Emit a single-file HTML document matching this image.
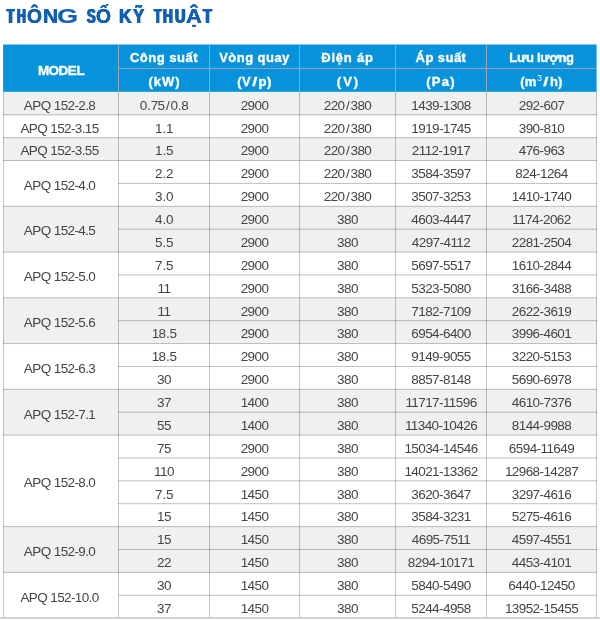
<!DOCTYPE html><html><head><meta charset="utf-8"><title>Thong so ky thuat</title><style>
html,body{margin:0;padding:0;background:#fff;}
body{width:600px;height:620px;position:relative;overflow:hidden;font-family:"Liberation Sans",sans-serif;}
div{position:absolute;box-sizing:border-box;}
svg{position:absolute;left:0;top:0;}
.t{color:#444444;font-size:13.5px;letter-spacing:-0.58px;text-align:center;white-space:nowrap;line-height:22.880px;height:22.880px;}
.m{letter-spacing:-0.63px;}
.h{color:#fff;font-weight:bold;font-size:13px;letter-spacing:0.3px;text-align:center;white-space:nowrap;line-height:20px;height:20px;-webkit-text-stroke:0.35px #fff;}
.w{color:#1360b2;font-weight:bold;font-size:19.5px;white-space:nowrap;line-height:19.5px;top:6.5px;transform-origin:0 50%;-webkit-text-stroke:0.15px #1360b2;}
sup{font-size:8.5px;line-height:0;vertical-align:5px;font-weight:normal;-webkit-text-stroke:0;margin:0 0.5px}
u{text-decoration:none;display:inline-block;transform:scaleX(1.4);margin:0 1.6px}
em{font-style:normal;letter-spacing:-0.6px;margin-right:3.2px}
b{font-weight:normal;margin:0 0.4px}i{font-style:normal;margin:0 1.4px}
</style></head><body>
<svg width="600" height="620" viewBox="0 0 600 620">
<rect x="3.10" y="44.50" width="593.50" height="47.40" fill="#0693dc"/>
<rect x="3.00" y="91.90" width="594.00" height="22.88" fill="#f0f0f0"/>
<rect x="3.00" y="137.66" width="594.00" height="22.88" fill="#f0f0f0"/>
<rect x="3.00" y="206.30" width="594.00" height="45.76" fill="#f0f0f0"/>
<rect x="3.00" y="297.82" width="594.00" height="45.76" fill="#f0f0f0"/>
<rect x="3.00" y="389.34" width="594.00" height="45.76" fill="#f0f0f0"/>
<rect x="3.00" y="526.62" width="594.00" height="45.76" fill="#f0f0f0"/>
<rect x="118.00" y="67.90" width="479.00" height="1" fill="#93a7b8"/>
<rect x="118.00" y="44.50" width="1" height="47.40" fill="#93a7b8"/>
<rect x="209.00" y="44.50" width="1" height="47.40" fill="#93a7b8"/>
<rect x="299.00" y="44.50" width="1" height="47.40" fill="#93a7b8"/>
<rect x="395.00" y="44.50" width="1" height="47.40" fill="#93a7b8"/>
<rect x="486.00" y="44.50" width="1" height="47.40" fill="#93a7b8"/>
<rect x="3.00" y="91.90" width="1" height="525.74" fill="rgba(0,0,0,0.22)"/>
<rect x="118.00" y="91.90" width="1" height="525.74" fill="rgba(0,0,0,0.22)"/>
<rect x="209.00" y="91.90" width="1" height="525.74" fill="rgba(0,0,0,0.22)"/>
<rect x="299.00" y="91.90" width="1" height="525.74" fill="rgba(0,0,0,0.22)"/>
<rect x="395.00" y="91.90" width="1" height="525.74" fill="rgba(0,0,0,0.22)"/>
<rect x="486.00" y="91.90" width="1" height="525.74" fill="rgba(0,0,0,0.22)"/>
<rect x="596.00" y="91.90" width="1" height="525.74" fill="rgba(0,0,0,0.22)"/>
<rect x="3.00" y="114.28" width="594.00" height="1" fill="rgba(0,0,0,0.25)"/>
<rect x="3.00" y="137.16" width="594.00" height="1" fill="rgba(0,0,0,0.25)"/>
<rect x="3.00" y="160.04" width="594.00" height="1" fill="rgba(0,0,0,0.25)"/>
<rect x="118.00" y="182.92" width="479.00" height="1" fill="rgba(0,0,0,0.25)"/>
<rect x="3.00" y="205.80" width="594.00" height="1" fill="rgba(0,0,0,0.25)"/>
<rect x="118.00" y="228.68" width="479.00" height="1" fill="rgba(0,0,0,0.25)"/>
<rect x="3.00" y="251.56" width="594.00" height="1" fill="rgba(0,0,0,0.25)"/>
<rect x="118.00" y="274.44" width="479.00" height="1" fill="rgba(0,0,0,0.25)"/>
<rect x="3.00" y="297.32" width="594.00" height="1" fill="rgba(0,0,0,0.25)"/>
<rect x="118.00" y="320.20" width="479.00" height="1" fill="rgba(0,0,0,0.25)"/>
<rect x="3.00" y="343.08" width="594.00" height="1" fill="rgba(0,0,0,0.25)"/>
<rect x="118.00" y="365.96" width="479.00" height="1" fill="rgba(0,0,0,0.25)"/>
<rect x="3.00" y="388.84" width="594.00" height="1" fill="rgba(0,0,0,0.25)"/>
<rect x="118.00" y="411.72" width="479.00" height="1" fill="rgba(0,0,0,0.25)"/>
<rect x="3.00" y="434.60" width="594.00" height="1" fill="rgba(0,0,0,0.25)"/>
<rect x="118.00" y="457.48" width="479.00" height="1" fill="rgba(0,0,0,0.25)"/>
<rect x="118.00" y="480.36" width="479.00" height="1" fill="rgba(0,0,0,0.25)"/>
<rect x="118.00" y="503.24" width="479.00" height="1" fill="rgba(0,0,0,0.25)"/>
<rect x="3.00" y="526.12" width="594.00" height="1" fill="rgba(0,0,0,0.25)"/>
<rect x="118.00" y="549.00" width="479.00" height="1" fill="rgba(0,0,0,0.25)"/>
<rect x="3.00" y="571.88" width="594.00" height="1" fill="rgba(0,0,0,0.25)"/>
<rect x="118.00" y="594.76" width="479.00" height="1" fill="rgba(0,0,0,0.25)"/>
<rect x="0" y="617.24" width="600" height="1.5" fill="#c2c2c2"/>
</svg>
<div id="tx" style="left:0;top:0;width:600px;height:620px;will-change:transform">
<div class="w" style="left:7.37px;transform:scaleX(0.5975);text-shadow:1.486px 0 0 #1360b2,-1.486px 0 0 #1360b2;">T</div>
<div class="w" style="left:17.05px;transform:scaleX(0.6265);text-shadow:1.35px 0 0 #1360b2,-1.35px 0 0 #1360b2;">H</div>
<div class="w" style="left:27.06px;transform:scaleX(0.9844);text-shadow:0.335px 0 0 #1360b2,-0.335px 0 0 #1360b2;">Ô</div>
<div class="w" style="left:42.66px;transform:scaleX(1.0674);text-shadow:0.196px 0 0 #1360b2,-0.196px 0 0 #1360b2;">N</div>
<div class="w" style="left:57.42px;transform:scaleX(1.3903);">G</div>
<div class="w" style="left:86.62px;transform:scaleX(0.6580);text-shadow:1.216px 0 0 #1360b2,-1.216px 0 0 #1360b2;">S</div>
<div class="w" style="left:96.06px;transform:scaleX(0.9844);text-shadow:0.335px 0 0 #1360b2,-0.335px 0 0 #1360b2;">Ố</div>
<div class="w" style="left:119.29px;transform:scaleX(0.9080);text-shadow:0.484px 0 0 #1360b2,-0.484px 0 0 #1360b2;">K</div>
<div class="w" style="left:132.95px;transform:scaleX(0.8724);text-shadow:0.563px 0 0 #1360b2,-0.563px 0 0 #1360b2;">Ỹ</div>
<div class="w" style="left:153.70px;transform:scaleX(0.6381);text-shadow:1.299px 0 0 #1360b2,-1.299px 0 0 #1360b2;">T</div>
<div class="w" style="left:162.86px;transform:scaleX(0.6961);text-shadow:1.071px 0 0 #1360b2,-1.071px 0 0 #1360b2;">H</div>
<div class="w" style="left:174.82px;transform:scaleX(0.7375);text-shadow:0.93px 0 0 #1360b2,-0.93px 0 0 #1360b2;">U</div>
<div class="w" style="left:186.07px;transform:scaleX(1.1298);text-shadow:0.106px 0 0 #1360b2,-0.106px 0 0 #1360b2;">Ậ</div>
<div class="w" style="left:203.01px;transform:scaleX(0.7541);text-shadow:0.877px 0 0 #1360b2,-0.877px 0 0 #1360b2;">T</div>
<div class="h" style="left:4.00px;top:61.00px;width:114.00px;font-size:13.5px;letter-spacing:-0.5px">MODEL</div>
<div class="h" style="left:119.00px;top:47.50px;width:90.00px;letter-spacing:0.5px">Công suất</div>
<div class="h" style="left:119.50px;top:71.50px;width:90.00px;letter-spacing:1.0px">(kW)</div>
<div class="h" style="left:210.00px;top:47.50px;width:89.00px;letter-spacing:0.45px">Vòng quay</div>
<div class="h" style="left:210.00px;top:71.50px;width:89.00px;letter-spacing:0.5px">(V<u>/</u>p)</div>
<div class="h" style="left:300.00px;top:47.50px;width:95.00px;letter-spacing:0.8px">Điện áp</div>
<div class="h" style="left:301.00px;top:71.50px;width:95.00px;letter-spacing:2.0px">(V)</div>
<div class="h" style="left:396.00px;top:47.50px;width:90.00px;letter-spacing:0.45px">Áp suất</div>
<div class="h" style="left:396.00px;top:71.50px;width:90.00px;letter-spacing:1.2px">(Pa)</div>
<div class="h" style="left:487.00px;top:47.50px;width:109.00px;letter-spacing:-0.3px">Lưu lượng</div>
<div class="h" style="left:487.00px;top:71.50px;width:109.00px;letter-spacing:0.3px">(m<sup>3</sup><u>/</u>h)</div>
<div class="t m" style="left:2.50px;top:94.65px;width:114.00px"><em>APQ</em>152-2.8</div>
<div class="t" style="left:119.00px;top:94.65px;width:90.00px">0<b>.</b>75<i>/</i>0<b>.</b>8</div>
<div class="t" style="left:210.00px;top:94.65px;width:89.00px">2900</div>
<div class="t" style="left:300.00px;top:94.65px;width:95.00px">220<i>/</i>380</div>
<div class="t" style="left:396.00px;top:94.65px;width:90.00px">1439-1308</div>
<div class="t" style="left:487.00px;top:94.65px;width:109.00px">292-607</div>
<div class="t m" style="left:2.50px;top:117.53px;width:114.00px"><em>APQ</em>152-3.15</div>
<div class="t" style="left:119.00px;top:117.53px;width:90.00px">1<b>.</b>1</div>
<div class="t" style="left:210.00px;top:117.53px;width:89.00px">2900</div>
<div class="t" style="left:300.00px;top:117.53px;width:95.00px">220<i>/</i>380</div>
<div class="t" style="left:396.00px;top:117.53px;width:90.00px">1919-1745</div>
<div class="t" style="left:487.00px;top:117.53px;width:109.00px">390-810</div>
<div class="t m" style="left:2.50px;top:140.41px;width:114.00px"><em>APQ</em>152-3.55</div>
<div class="t" style="left:119.00px;top:140.41px;width:90.00px">1<b>.</b>5</div>
<div class="t" style="left:210.00px;top:140.41px;width:89.00px">2900</div>
<div class="t" style="left:300.00px;top:140.41px;width:95.00px">220<i>/</i>380</div>
<div class="t" style="left:396.00px;top:140.41px;width:90.00px">2112-1917</div>
<div class="t" style="left:487.00px;top:140.41px;width:109.00px">476-963</div>
<div class="t m" style="left:2.50px;top:174.73px;width:114.00px"><em>APQ</em>152-4.0</div>
<div class="t" style="left:119.00px;top:163.29px;width:90.00px">2<b>.</b>2</div>
<div class="t" style="left:210.00px;top:163.29px;width:89.00px">2900</div>
<div class="t" style="left:300.00px;top:163.29px;width:95.00px">220<i>/</i>380</div>
<div class="t" style="left:396.00px;top:163.29px;width:90.00px">3584-3597</div>
<div class="t" style="left:487.00px;top:163.29px;width:109.00px">824-1264</div>
<div class="t" style="left:119.00px;top:186.17px;width:90.00px">3<b>.</b>0</div>
<div class="t" style="left:210.00px;top:186.17px;width:89.00px">2900</div>
<div class="t" style="left:300.00px;top:186.17px;width:95.00px">220<i>/</i>380</div>
<div class="t" style="left:396.00px;top:186.17px;width:90.00px">3507-3253</div>
<div class="t" style="left:487.00px;top:186.17px;width:109.00px">1410-1740</div>
<div class="t m" style="left:2.50px;top:220.49px;width:114.00px"><em>APQ</em>152-4.5</div>
<div class="t" style="left:119.00px;top:209.05px;width:90.00px">4<b>.</b>0</div>
<div class="t" style="left:210.00px;top:209.05px;width:89.00px">2900</div>
<div class="t" style="left:300.00px;top:209.05px;width:95.00px">380</div>
<div class="t" style="left:396.00px;top:209.05px;width:90.00px">4603-4447</div>
<div class="t" style="left:487.00px;top:209.05px;width:109.00px">1174-2062</div>
<div class="t" style="left:119.00px;top:231.93px;width:90.00px">5<b>.</b>5</div>
<div class="t" style="left:210.00px;top:231.93px;width:89.00px">2900</div>
<div class="t" style="left:300.00px;top:231.93px;width:95.00px">380</div>
<div class="t" style="left:396.00px;top:231.93px;width:90.00px">4297-4112</div>
<div class="t" style="left:487.00px;top:231.93px;width:109.00px">2281-2504</div>
<div class="t m" style="left:2.50px;top:266.25px;width:114.00px"><em>APQ</em>152-5.0</div>
<div class="t" style="left:119.00px;top:254.81px;width:90.00px">7<b>.</b>5</div>
<div class="t" style="left:210.00px;top:254.81px;width:89.00px">2900</div>
<div class="t" style="left:300.00px;top:254.81px;width:95.00px">380</div>
<div class="t" style="left:396.00px;top:254.81px;width:90.00px">5697-5517</div>
<div class="t" style="left:487.00px;top:254.81px;width:109.00px">1610-2844</div>
<div class="t" style="left:119.00px;top:277.69px;width:90.00px">11</div>
<div class="t" style="left:210.00px;top:277.69px;width:89.00px">2900</div>
<div class="t" style="left:300.00px;top:277.69px;width:95.00px">380</div>
<div class="t" style="left:396.00px;top:277.69px;width:90.00px">5323-5080</div>
<div class="t" style="left:487.00px;top:277.69px;width:109.00px">3166-3488</div>
<div class="t m" style="left:2.50px;top:312.01px;width:114.00px"><em>APQ</em>152-5.6</div>
<div class="t" style="left:119.00px;top:300.57px;width:90.00px">11</div>
<div class="t" style="left:210.00px;top:300.57px;width:89.00px">2900</div>
<div class="t" style="left:300.00px;top:300.57px;width:95.00px">380</div>
<div class="t" style="left:396.00px;top:300.57px;width:90.00px">7182-7109</div>
<div class="t" style="left:487.00px;top:300.57px;width:109.00px">2622-3619</div>
<div class="t" style="left:119.00px;top:323.45px;width:90.00px">18<b>.</b>5</div>
<div class="t" style="left:210.00px;top:323.45px;width:89.00px">2900</div>
<div class="t" style="left:300.00px;top:323.45px;width:95.00px">380</div>
<div class="t" style="left:396.00px;top:323.45px;width:90.00px">6954-6400</div>
<div class="t" style="left:487.00px;top:323.45px;width:109.00px">3996-4601</div>
<div class="t m" style="left:2.50px;top:357.77px;width:114.00px"><em>APQ</em>152-6.3</div>
<div class="t" style="left:119.00px;top:346.33px;width:90.00px">18<b>.</b>5</div>
<div class="t" style="left:210.00px;top:346.33px;width:89.00px">2900</div>
<div class="t" style="left:300.00px;top:346.33px;width:95.00px">380</div>
<div class="t" style="left:396.00px;top:346.33px;width:90.00px">9149-9055</div>
<div class="t" style="left:487.00px;top:346.33px;width:109.00px">3220-5153</div>
<div class="t" style="left:119.00px;top:369.21px;width:90.00px">30</div>
<div class="t" style="left:210.00px;top:369.21px;width:89.00px">2900</div>
<div class="t" style="left:300.00px;top:369.21px;width:95.00px">380</div>
<div class="t" style="left:396.00px;top:369.21px;width:90.00px">8857-8148</div>
<div class="t" style="left:487.00px;top:369.21px;width:109.00px">5690-6978</div>
<div class="t m" style="left:2.50px;top:403.53px;width:114.00px"><em>APQ</em>152-7.1</div>
<div class="t" style="left:119.00px;top:392.09px;width:90.00px">37</div>
<div class="t" style="left:210.00px;top:392.09px;width:89.00px">1400</div>
<div class="t" style="left:300.00px;top:392.09px;width:95.00px">380</div>
<div class="t" style="left:396.00px;top:392.09px;width:90.00px">11717-11596</div>
<div class="t" style="left:487.00px;top:392.09px;width:109.00px">4610-7376</div>
<div class="t" style="left:119.00px;top:414.97px;width:90.00px">55</div>
<div class="t" style="left:210.00px;top:414.97px;width:89.00px">1400</div>
<div class="t" style="left:300.00px;top:414.97px;width:95.00px">380</div>
<div class="t" style="left:396.00px;top:414.97px;width:90.00px">11340-10426</div>
<div class="t" style="left:487.00px;top:414.97px;width:109.00px">8144-9988</div>
<div class="t m" style="left:2.50px;top:472.17px;width:114.00px"><em>APQ</em>152-8.0</div>
<div class="t" style="left:119.00px;top:437.85px;width:90.00px">75</div>
<div class="t" style="left:210.00px;top:437.85px;width:89.00px">2900</div>
<div class="t" style="left:300.00px;top:437.85px;width:95.00px">380</div>
<div class="t" style="left:396.00px;top:437.85px;width:90.00px">15034-14546</div>
<div class="t" style="left:487.00px;top:437.85px;width:109.00px">6594-11649</div>
<div class="t" style="left:119.00px;top:460.73px;width:90.00px">110</div>
<div class="t" style="left:210.00px;top:460.73px;width:89.00px">2900</div>
<div class="t" style="left:300.00px;top:460.73px;width:95.00px">380</div>
<div class="t" style="left:396.00px;top:460.73px;width:90.00px">14021-13362</div>
<div class="t" style="left:487.00px;top:460.73px;width:109.00px">12968-14287</div>
<div class="t" style="left:119.00px;top:483.61px;width:90.00px">7<b>.</b>5</div>
<div class="t" style="left:210.00px;top:483.61px;width:89.00px">1450</div>
<div class="t" style="left:300.00px;top:483.61px;width:95.00px">380</div>
<div class="t" style="left:396.00px;top:483.61px;width:90.00px">3620-3647</div>
<div class="t" style="left:487.00px;top:483.61px;width:109.00px">3297-4616</div>
<div class="t" style="left:119.00px;top:506.49px;width:90.00px">15</div>
<div class="t" style="left:210.00px;top:506.49px;width:89.00px">1450</div>
<div class="t" style="left:300.00px;top:506.49px;width:95.00px">380</div>
<div class="t" style="left:396.00px;top:506.49px;width:90.00px">3584-3231</div>
<div class="t" style="left:487.00px;top:506.49px;width:109.00px">5275-4616</div>
<div class="t m" style="left:2.50px;top:540.81px;width:114.00px"><em>APQ</em>152-9.0</div>
<div class="t" style="left:119.00px;top:529.37px;width:90.00px">15</div>
<div class="t" style="left:210.00px;top:529.37px;width:89.00px">1450</div>
<div class="t" style="left:300.00px;top:529.37px;width:95.00px">380</div>
<div class="t" style="left:396.00px;top:529.37px;width:90.00px">4695-7511</div>
<div class="t" style="left:487.00px;top:529.37px;width:109.00px">4597-4551</div>
<div class="t" style="left:119.00px;top:552.25px;width:90.00px">22</div>
<div class="t" style="left:210.00px;top:552.25px;width:89.00px">1450</div>
<div class="t" style="left:300.00px;top:552.25px;width:95.00px">380</div>
<div class="t" style="left:396.00px;top:552.25px;width:90.00px">8294-10171</div>
<div class="t" style="left:487.00px;top:552.25px;width:109.00px">4453-4101</div>
<div class="t m" style="left:2.50px;top:586.57px;width:114.00px"><em>APQ</em>152-10.0</div>
<div class="t" style="left:119.00px;top:575.13px;width:90.00px">30</div>
<div class="t" style="left:210.00px;top:575.13px;width:89.00px">1450</div>
<div class="t" style="left:300.00px;top:575.13px;width:95.00px">380</div>
<div class="t" style="left:396.00px;top:575.13px;width:90.00px">5840-5490</div>
<div class="t" style="left:487.00px;top:575.13px;width:109.00px">6440-12450</div>
<div class="t" style="left:119.00px;top:598.01px;width:90.00px">37</div>
<div class="t" style="left:210.00px;top:598.01px;width:89.00px">1450</div>
<div class="t" style="left:300.00px;top:598.01px;width:95.00px">380</div>
<div class="t" style="left:396.00px;top:598.01px;width:90.00px">5244-4958</div>
<div class="t" style="left:487.00px;top:598.01px;width:109.00px">13952-15455</div>
</div>
</body></html>
